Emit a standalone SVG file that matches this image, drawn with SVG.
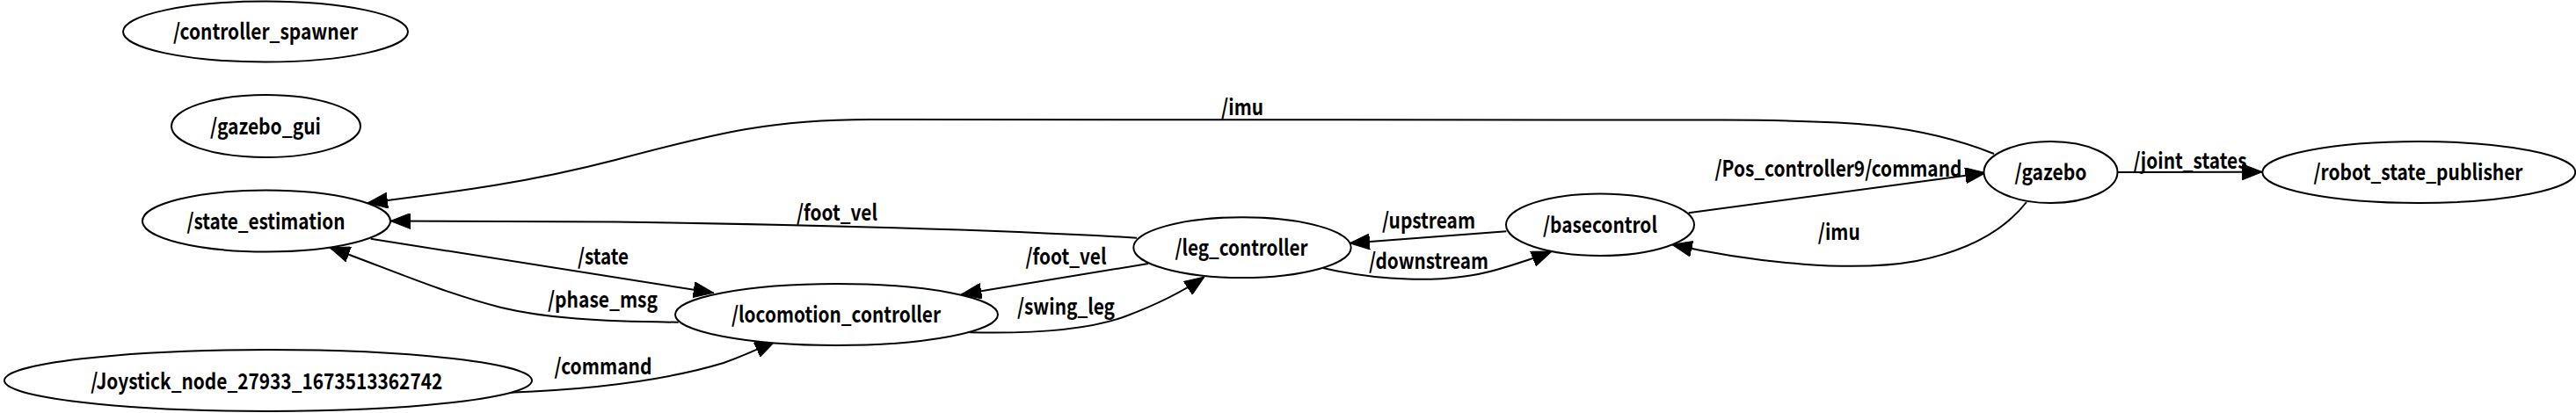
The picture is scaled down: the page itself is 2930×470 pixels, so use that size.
<svg xmlns="http://www.w3.org/2000/svg" width="2930" height="470" viewBox="0 0 2930 470">
<style>
.n ellipse{fill:#fff;stroke:#000;stroke-width:2}
text{font-family:"Noto Sans CJK SC","Noto Sans",sans-serif;font-weight:bold;font-size:25px;fill:#000;text-anchor:middle}
.e path{fill:none;stroke:#000;stroke-width:2;marker-end:url(#ah)}
</style>
<defs>
<marker id="ah" viewBox="0 0 23 18" refX="23" refY="9" markerWidth="23" markerHeight="18" markerUnits="userSpaceOnUse" orient="auto">
<path d="M0,0 L23,9 L0,18 z" fill="#000" stroke="#000" stroke-width="1"/>
</marker>
</defs>
<rect width="2930" height="470" fill="#fff"/>
<g id="edges" class="e">
<path d="M2268,175 C2180,140 2100,137 1960,136.5 L990,136 C880,136 820,150 700,182 C600,208 520,218 418,231"/>
<path d="M1293,270.7 C1150,262 900,255 700,252.5 C600,251.5 520,251.5 444,251.5"/>
<path d="M421.7,271.7 L811.7,333.3"/>
<path d="M771.7,366.7 C680,366 620,362 570,350 C500,332 440,305 375,281.7"/>
<path d="M580,446.7 C680,443 760,432 823,413 C845,405 865,396 881.7,388.3"/>
<path d="M1306,300 L1093.3,335"/>
<path d="M1103.3,378.3 C1180,380 1240,375 1280,360 C1320,345 1345,332 1370,315"/>
<path d="M1713.3,263.3 L1535,276.7"/>
<path d="M1505,305 C1560,318 1640,325 1703,306.7 C1730,299 1750,292 1765,286"/>
<path d="M1920.7,242.3 L2258.3,196.7"/>
<path d="M2305,230 C2280,262 2240,285 2180,297 C2110,310 2000,300 1901.7,278.3"/>
<path d="M2408.3,196 L2573.3,195.7"/>
<text x="1413" y="131" textLength="48" lengthAdjust="spacingAndGlyphs">/imu</text>
<text x="952" y="251" textLength="92" lengthAdjust="spacingAndGlyphs">/foot_vel</text>
<text x="686" y="301" textLength="58" lengthAdjust="spacingAndGlyphs">/state</text>
<text x="685.5" y="350" textLength="125" lengthAdjust="spacingAndGlyphs">/phase_msg</text>
<text x="686" y="426" textLength="111" lengthAdjust="spacingAndGlyphs">/command</text>
<text x="1212.5" y="301" textLength="92" lengthAdjust="spacingAndGlyphs">/foot_vel</text>
<text x="1212.5" y="358" textLength="111" lengthAdjust="spacingAndGlyphs">/swing_leg</text>
<text x="1625" y="260" textLength="106" lengthAdjust="spacingAndGlyphs">/upstream</text>
<text x="1625" y="306" textLength="136" lengthAdjust="spacingAndGlyphs">/downstream</text>
<text x="2091" y="201" textLength="281" lengthAdjust="spacingAndGlyphs">/Pos_controller9/command</text>
<text x="2091.7" y="273" textLength="48" lengthAdjust="spacingAndGlyphs">/imu</text>
<text x="2491" y="191.5" textLength="129" lengthAdjust="spacingAndGlyphs">/joint_states</text>
</g>
<g id="controller_spawner" class="n"><ellipse cx="302" cy="36" rx="162" ry="34.5"/><text x="302" y="45" textLength="210" lengthAdjust="spacingAndGlyphs">/controller_spawner</text></g>
<g id="gazebo_gui" class="n"><ellipse cx="302.5" cy="143.5" rx="107.5" ry="35.5"/><text x="302" y="153" textLength="126" lengthAdjust="spacingAndGlyphs">/gazebo_gui</text></g>
<g id="state_estimation" class="n"><ellipse cx="303" cy="251.5" rx="141" ry="35"/><text x="302.5" y="261" textLength="180" lengthAdjust="spacingAndGlyphs">/state_estimation</text></g>
<g id="joystick" class="n"><ellipse cx="305" cy="433" rx="300" ry="35"/><text x="303.3" y="443" textLength="400" lengthAdjust="spacingAndGlyphs">/Joystick_node_27933_1673513362742</text></g>
<g id="locomotion_controller" class="n"><ellipse cx="951.5" cy="358" rx="183.5" ry="35"/><text x="951" y="367" textLength="238" lengthAdjust="spacingAndGlyphs">/locomotion_controller</text></g>
<g id="leg_controller" class="n"><ellipse cx="1413" cy="281.7" rx="123.7" ry="34.4"/><text x="1412" y="291" textLength="151" lengthAdjust="spacingAndGlyphs">/leg_controller</text></g>
<g id="basecontrol" class="n"><ellipse cx="1820" cy="255.8" rx="107" ry="35.2"/><text x="1820" y="265" textLength="130" lengthAdjust="spacingAndGlyphs">/basecontrol</text></g>
<g id="gazebo" class="n"><ellipse cx="2332.5" cy="196" rx="76" ry="35"/><text x="2332.5" y="205" textLength="82" lengthAdjust="spacingAndGlyphs">/gazebo</text></g>
<g id="robot_state_publisher" class="n"><ellipse cx="2751.3" cy="196" rx="178" ry="35"/><text x="2750.5" y="205" textLength="238" lengthAdjust="spacingAndGlyphs">/robot_state_publisher</text></g>
</svg>
